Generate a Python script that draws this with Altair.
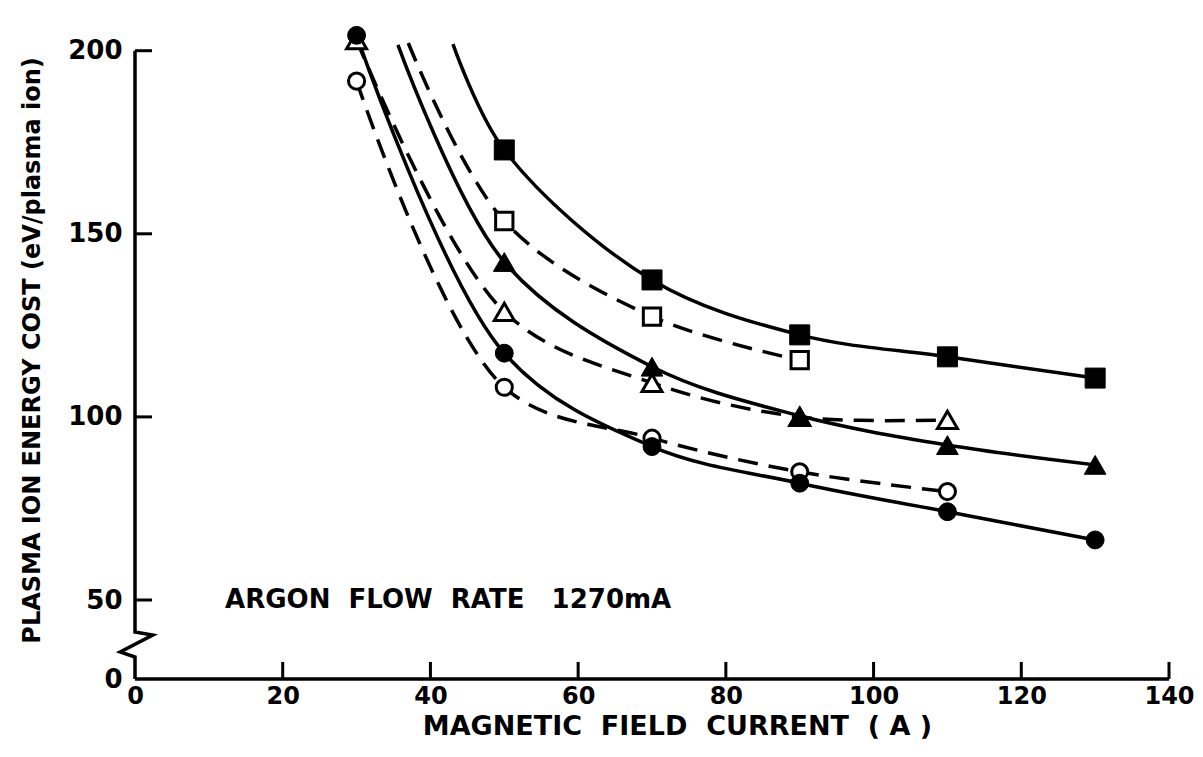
import altair as alt
import pandas as pd

# ---- data -------------------------------------------------------------------
x_vals = [30, 50, 70, 90, 110, 130]
filled_square = [None, 172.9, 137.4, 122.4, 116.4, 110.6]
open_square = [None, 153.5, 127.4, 115.5, None, None]
filled_triangle = [None, 142.3, 113.7, 100.3, 92.3, 86.9]
open_triangle = [202.9, 128.7, 109.3, 100.0, 99.2, None]
filled_circle = [204.2, 117.4, 91.9, 81.9, 74.1, 66.4]
open_circle = [191.7, 108.1, 94.2, 85.0, 79.6, None]

series_names = ["filled_square", "open_square", "filled_triangle",
                "open_triangle", "filled_circle", "open_circle"]
series_values = [filled_square, open_square, filled_triangle,
                 open_triangle, filled_circle, open_circle]
series_dashed = [False, True, False, True, False, True]
series_shape = ["square", "square", "triangle-up", "triangle-up", "circle", "circle"]
series_filled = [True, False, True, False, True, False]
series_size = [400, 300, 470, 400, 320, 260]

# upper ends of the fitted curves that rise above the plotted points
curve_top_series = ["filled_square", "open_square", "filled_triangle"]
curve_top_x = [43.05, 37.0, 35.6]
curve_top_y = [201.8, 202.1, 201.6]

x_ticks = [0, 20, 40, 60, 80, 100, 120, 140]
x_tick_marks = [20, 40, 60, 80, 100, 120, 140]
y_ticks = [0, 50, 100, 150, 200]
y_tick_marks = [50, 100, 150, 200]

# broken y axis (zig-zag between 0 and 50) and x axis
yaxis_path_x = [0, 0, 2.4, -2.0, 0, 0]
yaxis_path_y = [200, 29.7, 27.8, 17.1, 13.9, 0]
xaxis_path_x = [0, 140]
xaxis_path_y = [0, 0]

NB = "\u00a0"
note_text = [f"ARGON{NB} FLOW{NB} RATE{NB}{NB} 1270mA"]
note_x = [12.2]
note_y = [50]

x_title = f"MAGNETIC{NB} FIELD{NB} CURRENT{NB} ( A )"
y_title = "PLASMA ION ENERGY COST (eV/plasma ion)"

# ---- tables -----------------------------------------------------------------
pt_rows, curve_rows = [], []
for name, vals in zip(series_names, series_values):
    for xv, yv in zip(x_vals, vals):
        if yv is not None:
            pt_rows.append({"series": name, "x": xv, "y": yv})
            curve_rows.append({"series": name, "x": xv, "y": yv})
for name, xv, yv in zip(curve_top_series, curve_top_x, curve_top_y):
    curve_rows.append({"series": name, "x": xv, "y": yv})
points = pd.DataFrame(pt_rows)
curves = pd.DataFrame(curve_rows).sort_values(["series", "x"])
dashed_names = [n for n, d in zip(series_names, series_dashed) if d]
curves["dashed"] = curves["series"].isin(dashed_names)

FONT = "DejaVu Sans"
W, H = 1034, 659

x_scale = alt.Scale(domain=[0, 140], nice=False, zero=False)
y_scale = alt.Scale(domain=[0, 50, 200], range=[H, 580, 30.7], nice=False, zero=False)

x_axis = alt.Axis(values=x_ticks, domain=False, ticks=False, grid=False,
                  labelFont=FONT, labelFontSize=24, labelFontWeight="bold",
                  labelColor="black", labelPadding=5, labelFlush=False,
                  labelOverlap=False, title=x_title, titleFont=FONT,
                  titleFontSize=27, titleFontWeight="bold", titleColor="black",
                  titleX=542, titleY=47, titleAlign="center",
                  titleBaseline="middle")
y_axis = alt.Axis(values=y_ticks, domain=False, ticks=False, grid=False,
                  labelFont=FONT, labelFontSize=26, labelFontWeight="bold",
                  labelColor="black", labelPadding=13, labelFlush=False,
                  labelOverlap=False, title=y_title, titleFont=FONT,
                  titleFontSize=24, titleFontWeight="bold", titleColor="black",
                  titleX=-103, titleY=330, titleAngle=270, titleAlign="center",
                  titleBaseline="middle")


def X(field="x"):
    return alt.X(f"{field}:Q", scale=x_scale, axis=x_axis)


def Y(field="y"):
    return alt.Y(f"{field}:Q", scale=y_scale, axis=y_axis)


layers = []

# axis lines
yaxis_df = pd.DataFrame({"x": yaxis_path_x, "y": yaxis_path_y,
                         "i": list(range(len(yaxis_path_x)))})
xaxis_df = pd.DataFrame({"x": xaxis_path_x, "y": xaxis_path_y,
                         "i": list(range(len(xaxis_path_x)))})
for df in (yaxis_df, xaxis_df):
    layers.append(alt.Chart(df).mark_line(color="black", strokeWidth=3.5,
                                          strokeJoin="miter").encode(
        x=X(), y=Y(), order="i:Q"))

# inward ticks
xt = pd.DataFrame({"x": x_tick_marks, "y0": 0.0, "y1": 10.8})
layers.append(alt.Chart(xt).mark_rule(color="black", strokeWidth=3).encode(
    x=X(), y=Y("y0"), y2="y1:Q"))
yt = pd.DataFrame({"y": y_tick_marks, "x0": 0.0, "x1": 2.3})
layers.append(alt.Chart(yt).mark_rule(color="black", strokeWidth=3).encode(
    y=Y(), x=X("x0"), x2="x1:Q"))

# curves
layers.append(alt.Chart(curves[~curves["dashed"]]).mark_line(
    color="black", strokeWidth=3.5, interpolate="catmull-rom").encode(
    x=X(), y=Y(), detail="series:N", order="x:Q"))
layers.append(alt.Chart(curves[curves["dashed"]]).mark_line(
    color="black", strokeWidth=3.5, interpolate="catmull-rom",
    strokeDash=[20, 11]).encode(
    x=X(), y=Y(), detail="series:N", order="x:Q"))

# markers: open first, filled on top
for want_filled in (False, True):
    for name, shp, fl, sz in zip(series_names, series_shape, series_filled, series_size):
        if fl != want_filled:
            continue
        df = points[points["series"] == name]
        if fl:
            mk = alt.Chart(df).mark_point(shape=shp, size=sz, filled=True,
                                          fill="black", stroke="black",
                                          strokeWidth=1, opacity=1)
        else:
            mk = alt.Chart(df).mark_point(shape=shp, size=sz, filled=True,
                                          fill="white", stroke="black",
                                          strokeWidth=3, opacity=1)
        layers.append(mk.encode(x=X(), y=Y()))

# annotation
note_df = pd.DataFrame({"x": note_x, "y": note_y, "t": note_text})
layers.append(alt.Chart(note_df).mark_text(
    align="left", baseline="middle", font=FONT, fontSize=26,
    fontWeight="bold", color="black").encode(x=X(), y=Y(), text="t:N"))

chart = alt.layer(*layers).properties(
    width=W, height=H,
    padding={"left": 127, "top": 12, "right": 26, "bottom": 60},
    autosize=alt.AutoSizeParams(type="none"),
    background="white",
).configure_view(stroke=None)

chart.save("out.html", embed_options={"renderer": "svg", "actions": False})
